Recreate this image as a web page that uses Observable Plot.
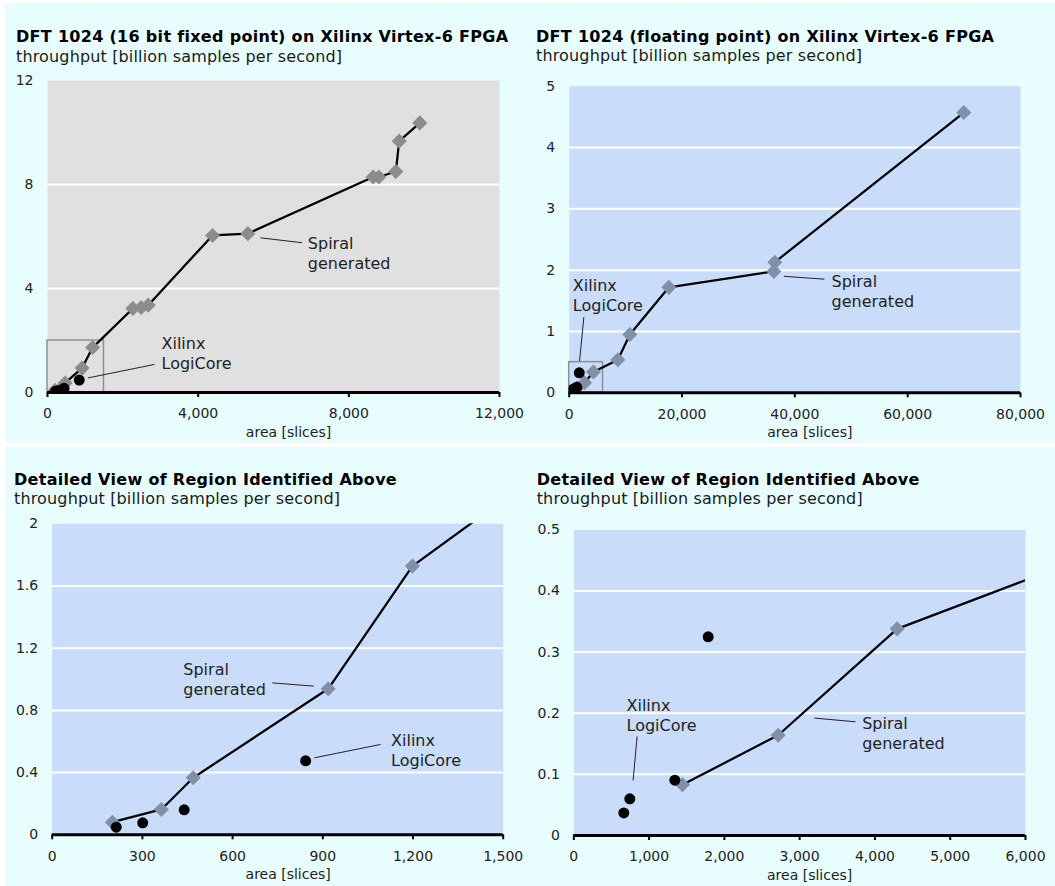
<!DOCTYPE html>
<html><head><meta charset="utf-8">
<script src="https://cdn.jsdelivr.net/npm/d3@7"></script>
<script src="https://cdn.jsdelivr.net/npm/@observablehq/plot@0.6"></script>
<style>
body{margin:0;background:#fff;width:1055px;height:886px;position:relative;overflow:hidden;font-family:"DejaVu Sans",Verdana,sans-serif;}
.band{position:absolute;background:#e8fefe;}
.t{position:absolute;white-space:nowrap;line-height:1;}
.title{font-weight:bold;font-size:16px;letter-spacing:0.3px;color:#000;}
.sub{font-size:16px;letter-spacing:0.15px;color:#1a1a1a;}
.chart{position:absolute;}
.chart svg [aria-label^="x-axis"], .chart svg [aria-label^="y-axis"]{font-size:14px;}
</style></head><body>
<div class="band" style="left:5px;top:3px;width:1050px;height:440px"></div>
<div class="band" style="left:5px;top:447px;width:1050px;height:439px"></div>
<script>
// ---- data (area in slices, throughput in billion samples per second) ----
const fixedSpiralArea = [200, 363, 469, 918, 1198, 2266, 2487, 2673, 4381, 5319, 8646, 8797, 9248, 9337, 9885];
const fixedSpiralTput = [0.081, 0.163, 0.367, 0.939, 1.728, 3.23, 3.27, 3.36, 6.04, 6.11, 8.29, 8.29, 8.50, 9.67, 10.37];
const fixedXilinxArea = [213, 301, 439, 843];
const fixedXilinxTput = [0.049, 0.077, 0.161, 0.476];

const floatSpiralArea = [1443, 2714, 4295, 8626, 10753, 17665, 36276, 36453, 69951];
const floatSpiralTput = [0.083, 0.164, 0.338, 0.54, 0.95, 1.72, 1.98, 2.13, 4.57];
const floatXilinxArea = [664, 744, 1342, 1785];
const floatXilinxTput = [0.037, 0.060, 0.0905, 0.325];

const titles = [
  "DFT 1024 (16 bit fixed point) on Xilinx Virtex-6 FPGA",
  "DFT 1024 (floating point) on Xilinx Virtex-6 FPGA",
  "Detailed View of Region Identified Above",
  "Detailed View of Region Identified Above"
];
const subtitle = "throughput [billion samples per second]";
const xLabel = "area [slices]";
const spiralLabel = "Spiral\ngenerated";
const xilinxLabel = "Xilinx\nLogiCore";

const xTicks1 = [0, 4000, 8000, 12000];
const yTicks1 = [0, 4, 8, 12];
const xTicks2 = [0, 20000, 40000, 60000, 80000];
const yTicks2 = [0, 1, 2, 3, 4, 5];
const xTicks3 = [0, 300, 600, 900, 1200, 1500];
const yTicks3 = [0, 0.4, 0.8, 1.2, 1.6, 2];
const xTicks4 = [0, 1000, 2000, 3000, 4000, 5000, 6000];
const yTicks4 = [0, 0.1, 0.2, 0.3, 0.4, 0.5];

// region boxes (data coordinates) shown in the overview charts
const box1 = [{x1: 0, x2: 1500, y1: 0, y2: 2}];
const box2 = [{x1: 0, x2: 6000, y1: 0, y2: 0.5}];

// annotation anchors (data coordinates)
const labels1 = [{x: 6912, y: 5.38, text: spiralLabel}, {x: 3027, y: 1.54, text: xilinxLabel}];
const leaders1 = [{x1: 5655, y1: 5.95, x2: 6761, y2: 5.76}, {x1: 1071, y1: 0.56, x2: 2841, y2: 1.08}];
const labels2 = [{x: 46496, y: 1.66, text: spiralLabel}, {x: 650, y: 1.595, text: xilinxLabel}];
const leaders2 = [{x1: 38047, y1: 1.90, x2: 45255, y2: 1.853}, {x1: 2600, y1: 1.234, x2: 1831, y2: 0.516}];
const labels3 = [{x: 436, y: 1.006, text: spiralLabel}, {x: 1127, y: 0.547, text: xilinxLabel}];
const leaders3 = [{x1: 732, y1: 0.977, x2: 870, y2: 0.956}, {x1: 872, y1: 0.495, x2: 1092, y2: 0.581}];
const labels4 = [{x: 3830, y: 0.1684, text: spiralLabel}, {x: 700, y: 0.1973, text: xilinxLabel}];
const leaders4 = [{x1: 3197, y1: 0.192, x2: 3742, y2: 0.186}, {x1: 841, y1: 0.162, x2: 788, y2: 0.090}];

const zip = (xs, ys) => xs.map((x, i) => ({x, y: ys[i]}));
const fixedSpiral = zip(fixedSpiralArea, fixedSpiralTput);
const fixedXilinx = zip(fixedXilinxArea, fixedXilinxTput);
const floatSpiral = zip(floatSpiralArea, floatSpiralTput);
const floatXilinx = zip(floatXilinxArea, floatXilinxTput);

// ---- layout ----
const panels = [
  {left: 0, top: 0, width: 525, height: 443, mL: 47, mR: 26, mT: 80, mB: 51,
   tx: 16, tb: 42.7, sb: 62.7, title: titles[0], bg: "#e0e0e0", diamond: "#8c8c8c",
   spiral: fixedSpiral, xilinx: fixedXilinx, xTicks: xTicks1, yTicks: yTicks1, box: box1,
   labels: labels1, leaders: leaders1, lx: 15},
  {left: 525, top: 0, width: 530, height: 443, mL: 43.7, mR: 35, mT: 85.7, mB: 50.7,
   tx: 11, tb: 42.7, sb: 61.7, title: titles[1], bg: "#c9ddfa", diamond: "#8190a6",
   spiral: floatSpiral, xilinx: floatXilinx, xTicks: xTicks2, yTicks: yTicks2, box: box2,
   labels: labels2, leaders: leaders2, lx: 15},
  {left: 0, top: 445, width: 525, height: 441, mL: 51.7, mR: 22.3, mT: 78.3, mB: 51.7,
   tx: 14, tb: 40.7, sb: 60, title: titles[2], bg: "#c9ddfa", diamond: "#8190a6",
   spiral: fixedSpiral, xilinx: fixedXilinx, xTicks: xTicks3, yTicks: yTicks3, box: null,
   labels: labels3, leaders: leaders3, lx: 10.5},
  {left: 525, top: 445, width: 530, height: 441, mL: 48.3, mR: 30, mT: 84.3, mB: 51,
   tx: 11.7, tb: 40.7, sb: 60, title: titles[3], bg: "#c9ddfa", diamond: "#8190a6",
   spiral: floatSpiral, xilinx: floatXilinx, xTicks: xTicks4, yTicks: yTicks4, box: null,
   labels: labels4, leaders: leaders4, lx: 10}
];

function addText(cls, text, left, baseline, fs) {
  const d = document.createElement("div");
  d.className = "t " + cls;
  d.textContent = text;
  d.style.left = left + "px";
  d.style.top = (baseline - 0.846 * fs) + "px";
  document.body.appendChild(d);
}

for (const p of panels) {
  addText("title", p.title, p.left + p.tx, p.top + p.tb, 16);
  addText("sub", subtitle, p.left + p.tx, p.top + p.sb, 16);

  const frameH = p.height - p.mT - p.mB;
  const xmax = p.xTicks[p.xTicks.length - 1];
  const ymax = p.yTicks[p.yTicks.length - 1];
  const grid = p.yTicks.filter(d => d > 0 && d < ymax);

  const marks = [
    Plot.frame({fill: p.bg, stroke: "none"}),
    Plot.ruleY(grid, {stroke: "white", strokeWidth: 2})
  ];
  if (p.box) marks.push(Plot.rect(p.box, {x1: "x1", x2: "x2", y1: "y1", y2: "y2", fill: "none", stroke: "#8f8f8f", strokeWidth: 1.5}));
  marks.push(
    Plot.line(p.spiral, {x: "x", y: "y", stroke: "black", strokeWidth: 2.25, clip: true}),
    Plot.dot(p.spiral, {x: "x", y: "y", symbol: d3.symbolDiamond2, r: 6.8, fill: p.diamond, stroke: "none", clip: true}),
    Plot.dot(p.xilinx, {x: "x", y: "y", r: 5.5, fill: "black", stroke: "none", clip: true}),
    Plot.link(p.leaders, {x1: "x1", y1: "y1", x2: "x2", y2: "y2", stroke: "#222", strokeWidth: 1}),
    Plot.text(p.labels, {x: "x", y: "y", text: "text", textAnchor: "start", lineAnchor: "middle", lineHeight: 1.25, fontSize: 16, fill: "#222"}),
    Plot.ruleY([0], {stroke: "black", strokeWidth: 3}),
    Plot.ruleX(p.xTicks, {stroke: "black", strokeWidth: 2, insetTop: frameH, insetBottom: -5}),
    Plot.text([xLabel], {frameAnchor: "bottom", lineAnchor: "middle", dx: p.lx, dy: 40, fontSize: 14, fill: "#222"})
  );

  const chart = Plot.plot({
    width: p.width, height: p.height,
    marginLeft: p.mL, marginRight: p.mR, marginTop: p.mT, marginBottom: p.mB,
    style: {background: "transparent", fontFamily: "DejaVu Sans, Verdana, sans-serif", fontSize: "14px", color: "#222", overflow: "visible", maxWidth: "none"},
    x: {domain: [0, xmax], ticks: p.xTicks, tickFormat: d3.format(","), tickSize: 0, tickPadding: 16, label: null},
    y: {domain: [0, ymax], ticks: p.yTicks, tickFormat: d => String(d), tickSize: 0, tickPadding: 14, label: null},
    marks
  });
  const wrap = document.createElement("div");
  wrap.className = "chart";
  wrap.style.left = p.left + "px";
  wrap.style.top = p.top + "px";
  wrap.style.width = p.width + "px";
  wrap.style.height = p.height + "px";
  wrap.appendChild(chart);
  document.body.appendChild(wrap);
}
</script>
</body></html>
